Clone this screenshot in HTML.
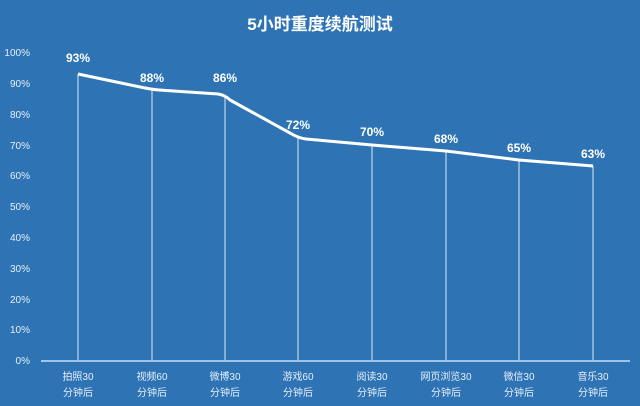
<!DOCTYPE html><html><head><meta charset="utf-8"><style>
body{margin:0;background:#2e74b5;}
svg{display:block}
text{font-family:"Liberation Sans","Noto Sans CJK SC",sans-serif;}
</style></head><body>
<svg width="640" height="406" viewBox="0 0 640 406">
<rect width="640" height="406" fill="#2e74b5"/>
<text x="320" y="30" text-anchor="middle" font-size="17" font-weight="bold" fill="#fff">5小时重度续航测试</text>
<g font-size="10" fill="#e6eef8" text-anchor="end">
<text x="30" y="56">100%</text><text x="30" y="87">90%</text><text x="30" y="118">80%</text><text x="30" y="149">70%</text><text x="30" y="179">60%</text><text x="30" y="210">50%</text><text x="30" y="241">40%</text><text x="30" y="272">30%</text><text x="30" y="303">20%</text><text x="30" y="333">10%</text><text x="30" y="364">0%</text>
</g>
<g stroke="#dfe9f5" stroke-width="1">
<line x1="78" y1="74" x2="78" y2="360"/><line x1="152" y1="89" x2="152" y2="360"/><line x1="225" y1="95" x2="225" y2="360"/><line x1="298" y1="138" x2="298" y2="360"/><line x1="372" y1="145" x2="372" y2="360"/><line x1="446" y1="151" x2="446" y2="360"/><line x1="519" y1="160" x2="519" y2="360"/><line x1="593" y1="166" x2="593" y2="360"/>
</g>
<line x1="41" y1="361" x2="630" y2="361" stroke="#9fc4e8" stroke-width="2"/>
<path d="M78,74 L145,88 Q152,89.5 159,90 L218,94 Q225,95 230,100 L290,133 Q298,138 306,139 L372,145 L446,151 L519,160 L593,166" fill="none" stroke="#fff" stroke-width="3" stroke-linejoin="round"/>
<g font-size="12" font-weight="bold" fill="#fff" text-anchor="middle">
<text x="78" y="62">93%</text><text x="152" y="82">88%</text><text x="225" y="82">86%</text><text x="298" y="129">72%</text><text x="372" y="136">70%</text><text x="446" y="143">68%</text><text x="519" y="152">65%</text><text x="593" y="158">63%</text>
</g>
<g font-size="10" fill="#e6eef8" text-anchor="middle">
<text x="78" y="380">拍照30</text><text x="78" y="396">分钟后</text>
<text x="152" y="380">视频60</text><text x="152" y="396">分钟后</text>
<text x="225" y="380">微博30</text><text x="225" y="396">分钟后</text>
<text x="298" y="380">游戏60</text><text x="298" y="396">分钟后</text>
<text x="372" y="380">阅读30</text><text x="372" y="396">分钟后</text>
<text x="446" y="380">网页浏览30</text><text x="446" y="396">分钟后</text>
<text x="519" y="380">微信30</text><text x="519" y="396">分钟后</text>
<text x="593" y="380">音乐30</text><text x="593" y="396">分钟后</text>
</g>
</svg>
</body></html>
